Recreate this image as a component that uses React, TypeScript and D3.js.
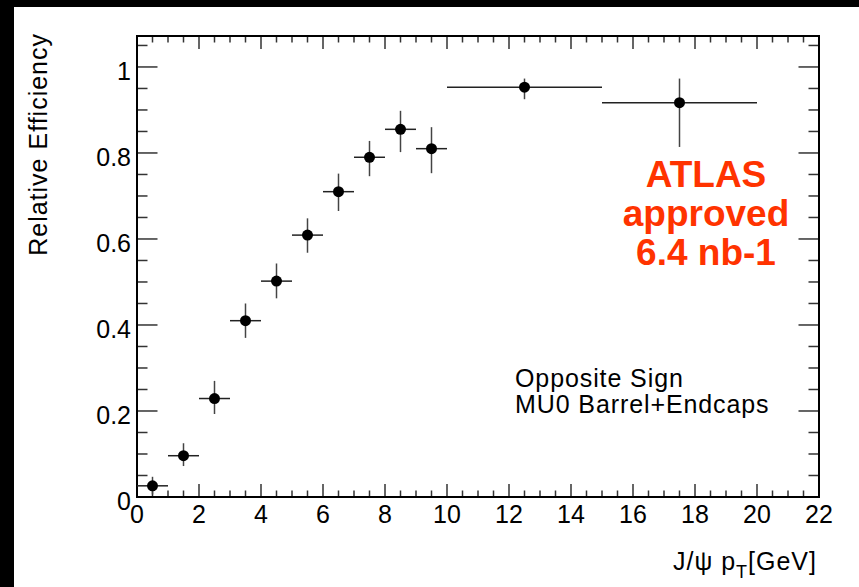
import React, { useEffect, useRef } from "react";
import * as d3 from "d3";

// J/psi pT bins (GeV): centre and half width
const ptCenter = [0.5, 1.5, 2.5, 3.5, 4.5, 5.5, 6.5, 7.5, 8.5, 9.5, 12.5, 17.5];
const ptHalfWidth = [0.5, 0.5, 0.5, 0.5, 0.5, 0.5, 0.5, 0.5, 0.5, 0.5, 2.5, 2.5];
// relative efficiency with asymmetric errors
const efficiency = [0.026, 0.096, 0.229, 0.41, 0.502, 0.609, 0.71, 0.79, 0.855, 0.81, 0.953, 0.917];
const errUp = [0.021, 0.029, 0.041, 0.04, 0.041, 0.039, 0.042, 0.038, 0.043, 0.05, 0.02, 0.056];
const errDown = [0.02, 0.024, 0.036, 0.04, 0.04, 0.041, 0.045, 0.044, 0.053, 0.057, 0.028, 0.103];

const xTicks = [0, 2, 4, 6, 8, 10, 12, 14, 16, 18, 20, 22];
const yTicks = [0, 0.2, 0.4, 0.6, 0.8, 1];
const labelLines = ["Opposite Sign", "MU0 Barrel+Endcaps"];
const atlasLines = ["ATLAS", "approved", "6.4 nb-1"];

const width = 859;
const height = 587;
const margin = { top: 36, right: 40, bottom: 90, left: 137 };

export default function App() {
  const ref = useRef<SVGSVGElement | null>(null);

  useEffect(() => {
    const svg = d3.select(ref.current);
    svg.html("");
    const font = "'Liberation Sans', Arial, Helvetica, sans-serif";

    const x = d3.scaleLinear().domain([0, 22]).range([margin.left, width - margin.right]);
    const y = d3.scaleLinear().domain([0, 1.072]).range([height - margin.bottom, margin.top]);
    const x0 = x.range()[0], x1 = x.range()[1];
    const y0 = y.range()[0], y1 = y.range()[1];

    svg.append("rect").attr("width", width).attr("height", height).attr("fill", "white");
    // black picture border (top and left)
    svg.append("rect").attr("x", 0).attr("y", 0).attr("width", width).attr("height", 7).attr("fill", "black");
    svg.append("rect").attr("x", 0).attr("y", 0).attr("width", 14).attr("height", height).attr("fill", "black");

    const ticks = svg.append("g").attr("stroke", "#333").attr("stroke-width", 1.5);
    // x ticks, bottom and top
    d3.range(0, 22.01, 0.5).forEach((v) => {
      const major = Math.abs(v % 2) < 1e-6;
      const len = major ? 13 : 6.5;
      ticks.append("line").attr("x1", x(v)).attr("x2", x(v)).attr("y1", y0).attr("y2", y0 - len);
      ticks.append("line").attr("x1", x(v)).attr("x2", x(v)).attr("y1", y1).attr("y2", y1 + len);
    });
    // y ticks, left and right
    d3.range(0, 1.06, 0.05).forEach((v) => {
      const r = Math.round(v * 100) % 20;
      const len = r === 0 ? 20.5 : 10.5;
      ticks.append("line").attr("x1", x0).attr("x2", x0 + len).attr("y1", y(v)).attr("y2", y(v));
      ticks.append("line").attr("x1", x1).attr("x2", x1 - len).attr("y1", y(v)).attr("y2", y(v));
    });

    svg.append("rect")
      .attr("x", x0).attr("y", y1).attr("width", x1 - x0).attr("height", y0 - y1)
      .attr("fill", "none").attr("stroke", "black").attr("stroke-width", 2);

    svg.append("g").selectAll("text").data(xTicks).enter().append("text")
      .attr("x", (d) => x(d)).attr("y", y0 + 26)
      .attr("text-anchor", "middle").attr("font-family", font).attr("font-size", 25)
      .text((d) => d);

    svg.append("g").selectAll("text").data(yTicks).enter().append("text")
      .attr("x", x0 - 6).attr("y", (d) => y(d) + 13)
      .attr("text-anchor", "end").attr("font-family", font).attr("font-size", 25)
      .text((d) => d);

    // axis titles
    const xt = svg.append("text")
      .attr("x", x1 - 2).attr("y", 570)
      .attr("text-anchor", "end").attr("font-family", font).attr("font-size", 25)
      .attr("letter-spacing", 1);
    xt.append("tspan").text("J/\u03c8 p");
    xt.append("tspan").attr("dy", 8).attr("font-size", 18).text("T");
    xt.append("tspan").attr("dy", -8).text("[GeV]");

    svg.append("text")
      .attr("transform", "translate(47,33) rotate(-90)")
      .attr("text-anchor", "end").attr("font-family", font).attr("font-size", 25)
      .attr("letter-spacing", 1)
      .text("Relative Efficiency");

    // error bars and markers
    const pts = svg.append("g");
    ptCenter.forEach((c, i) => {
      pts.append("line")
        .attr("x1", x(c - ptHalfWidth[i])).attr("x2", x(c + ptHalfWidth[i]))
        .attr("y1", y(efficiency[i])).attr("y2", y(efficiency[i]))
        .attr("stroke", "#222").attr("stroke-width", 1.5);
      pts.append("line")
        .attr("x1", x(c)).attr("x2", x(c))
        .attr("y1", y(efficiency[i] + errUp[i])).attr("y2", y(Math.max(0, efficiency[i] - errDown[i])))
        .attr("stroke", "#444").attr("stroke-width", 1.5);
    });
    pts.selectAll("circle").data(ptCenter).enter().append("circle")
      .attr("cx", (d) => x(d)).attr("cy", (d, i) => y(efficiency[i]))
      .attr("r", 5.5).attr("fill", "black");

    svg.append("g").selectAll("text").data(labelLines).enter().append("text")
      .attr("x", 515).attr("y", (d, i) => 387 + i * 26)
      .attr("font-family", font).attr("font-size", 25).attr("letter-spacing", 0.9)
      .attr("fill", "black")
      .text((d) => d);

    svg.append("g").selectAll("text").data(atlasLines).enter().append("text")
      .attr("x", 706).attr("y", (d, i) => 187 + i * 39)
      .attr("text-anchor", "middle").attr("font-family", font).attr("font-weight", "bold")
      .attr("font-size", 37).attr("fill", "#ff3300")
      .text((d) => d);
  }, []);

  return (
    <div style={{ position: "absolute", left: 0, top: 0 }}>
      <svg ref={ref} width={width} height={height} style={{ display: "block" }}></svg>
    </div>
  );
}
